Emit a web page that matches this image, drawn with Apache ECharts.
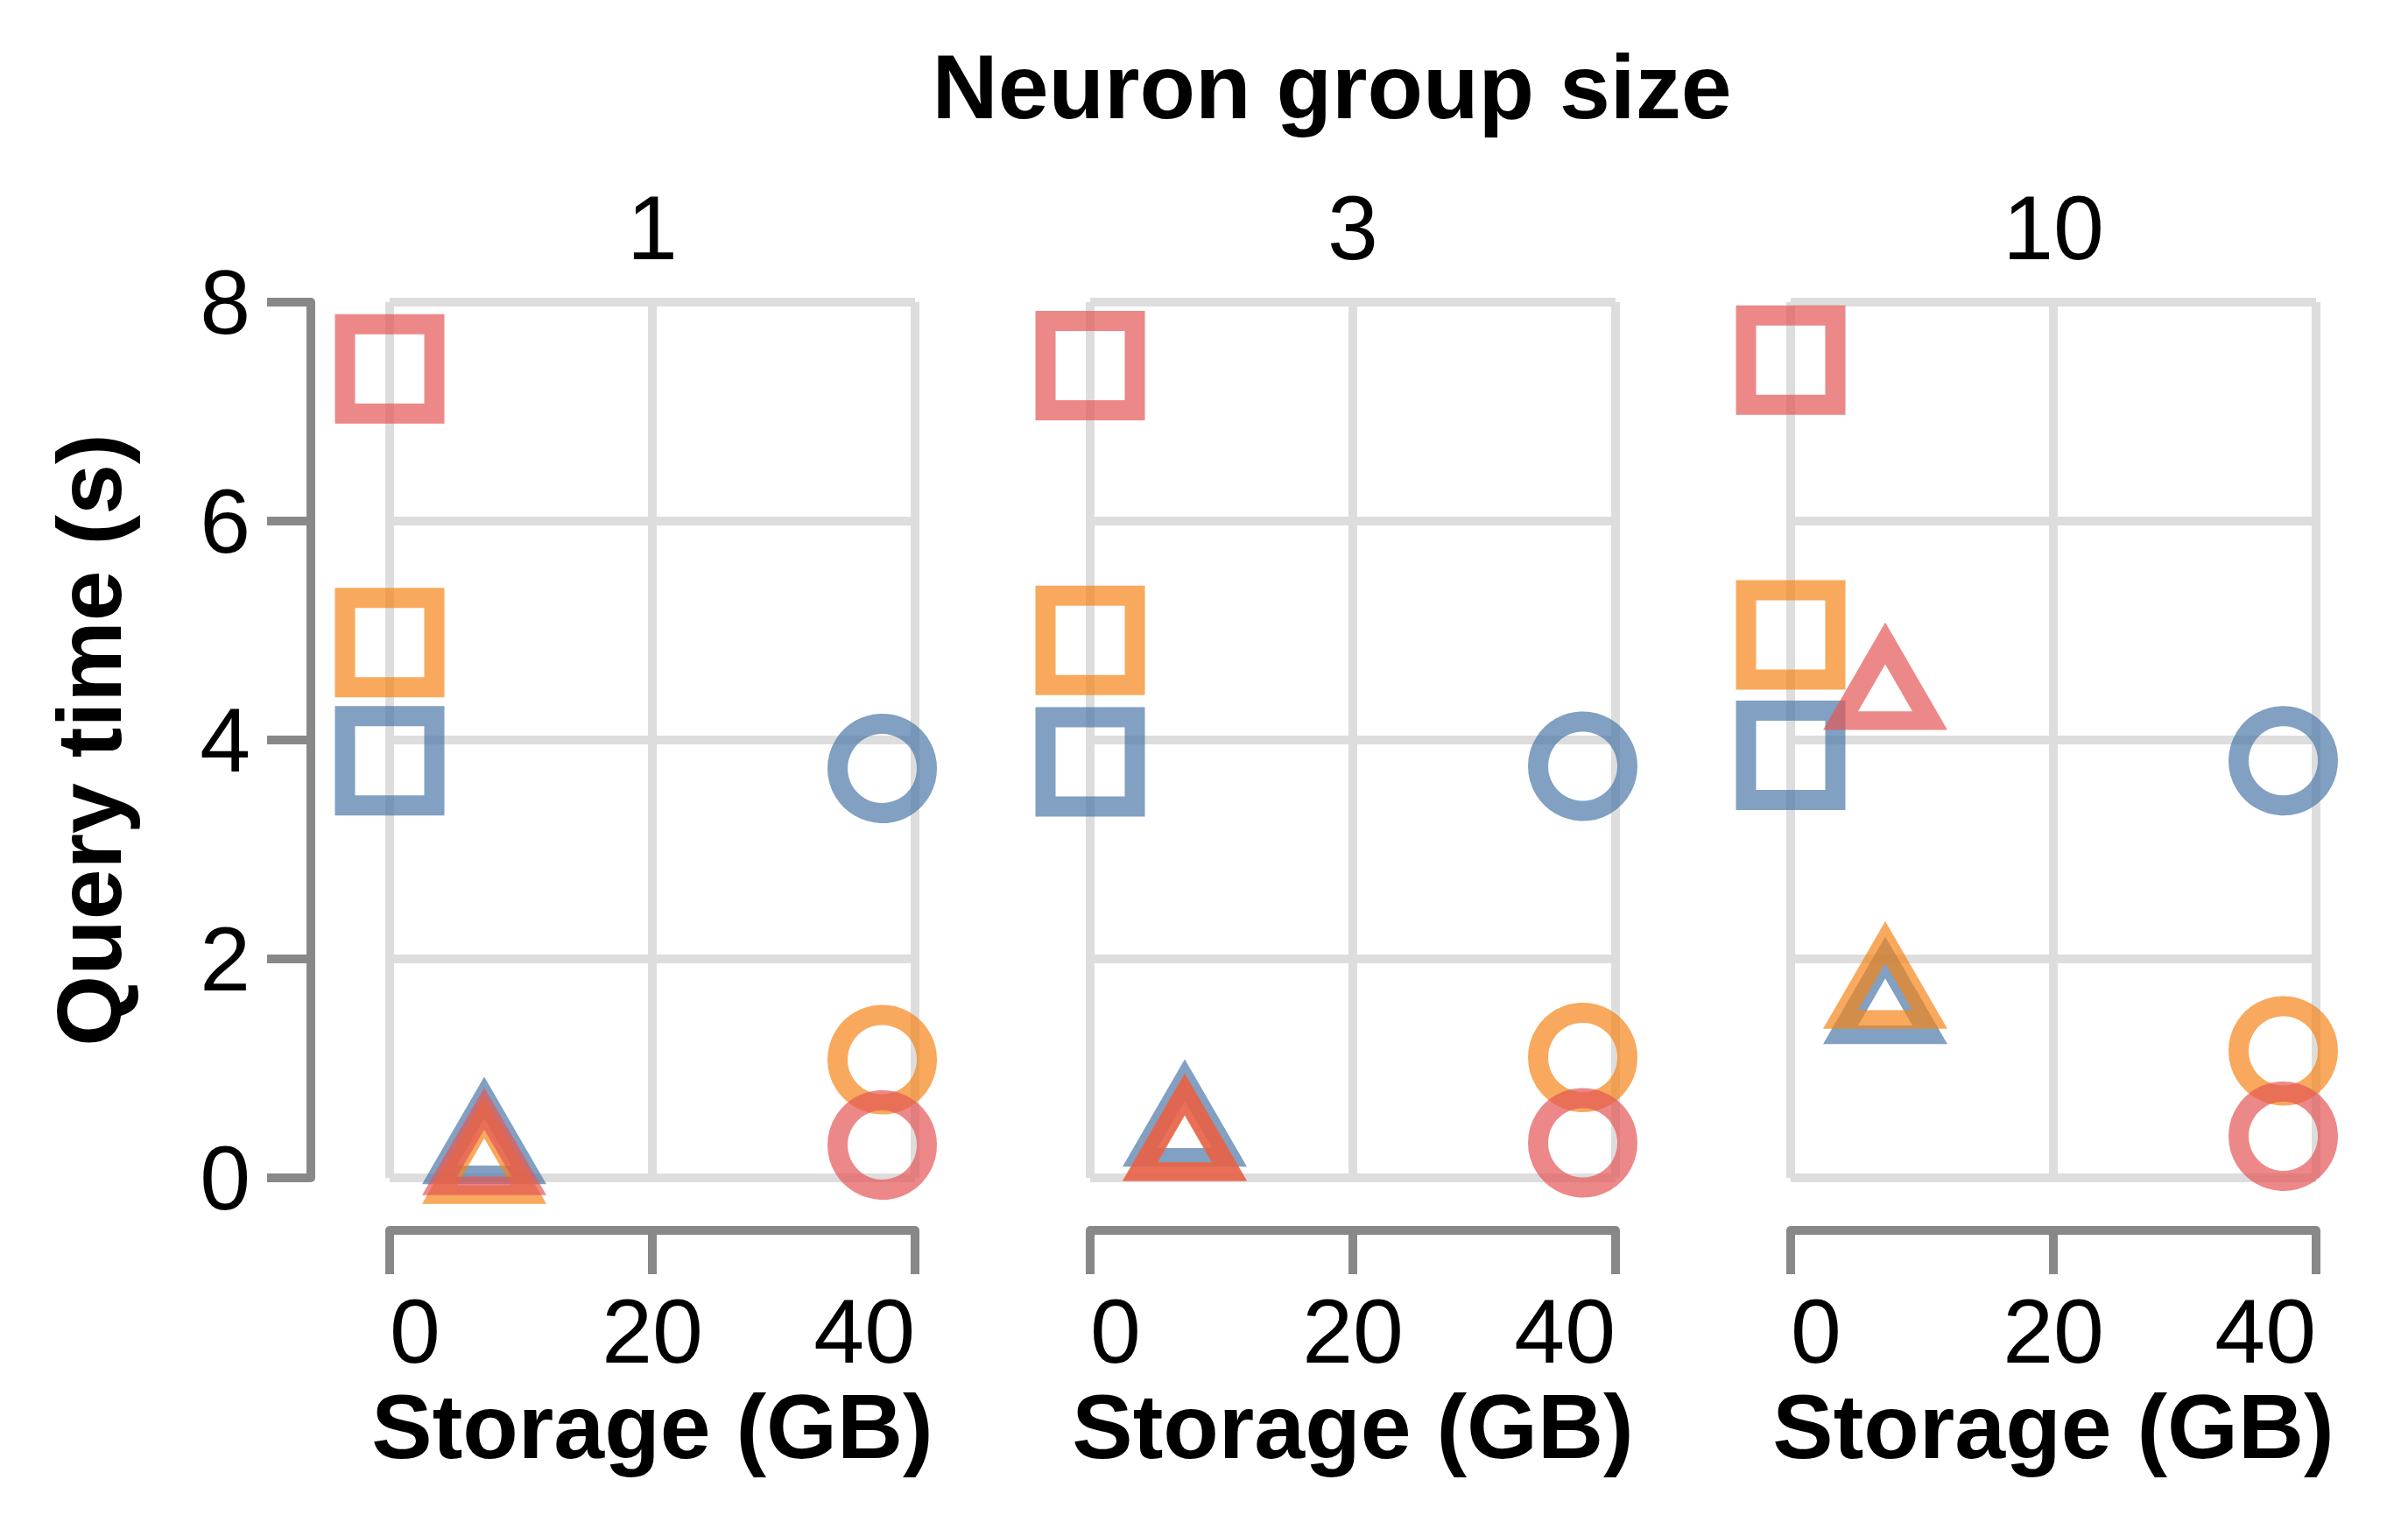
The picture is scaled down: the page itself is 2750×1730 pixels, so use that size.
<!DOCTYPE html>
<html>
<head>
<meta charset="utf-8">
<script src="https://cdn.jsdelivr.net/npm/echarts@6/dist/echarts.min.js"></script>
<style>
  html, body { margin: 0; padding: 0; background: #ffffff; }
  #chart { width: 2750px; height: 1730px; }
</style>
</head>
<body>
<div id="chart"></div>
<script>
// ---------------- data ----------------
const panels = ['1', '3', '10'];              // Neuron group size (column headers)
const xTicks = [0, 20, 40];                    // Storage (GB)
const yTicks = [0, 2, 4, 6, 8];                // Query time (s)
const groups = ['A', 'B', 'C'];                // colour groups (blue, orange, red)
const shapes = ['rect', 'triangle', 'circle']; // marker groups

// storage (GB) of each marker group
const storageGB = [0, 7.2, 37.5];

// query time (s) per panel [1, 3, 10]
const rectA = [3.81, 3.80, 3.86];
const rectB = [4.89, 4.91, 4.96];
const rectC = [7.39, 7.42, 7.47];
const triA  = [0.38, 0.54, 1.66];
const triB  = [0.20, 0.41, 1.80];
const triC  = [0.28, 0.41, 4.53];
const circA = [3.74, 3.76, 3.81];
const circB = [1.08, 1.10, 1.16];
const circC = [0.30, 0.32, 0.38];

const timeTable = [
  [rectA, rectB, rectC],
  [triA, triB, triC],
  [circA, circB, circC]
];

// ---------------- styles ----------------
const groupColors = ['#4c78a8', '#f58518', '#e45756'];
const FONT = '"Liberation Sans", Arial, Helvetica, sans-serif';
const FS = 104;
const AXIS_GRAY = '#888888';
const GRID_GRAY = '#dddddd';
const panelLeft = [445, 1245, 2045];
const panelTop = 345, panelW = 600, panelH = 1000;
const symbolSizes = { rect: [102, 102], triangle: [102, 88.3], circle: [102, 102] };

const grids = [], xAxes = [], yAxes = [], series = [], graphics = [];

panels.forEach((p, pi) => {
  grids.push({ left: panelLeft[pi], top: panelTop, width: panelW, height: panelH, containLabel: false });
  xAxes.push({
    gridIndex: pi, type: 'value', min: xTicks[0], max: xTicks[xTicks.length - 1],
    interval: xTicks[1] - xTicks[0],
    offset: 60,
    name: 'Storage (GB)', nameLocation: 'middle', nameGap: 157,
    nameTextStyle: { fontFamily: FONT, fontSize: FS, fontWeight: 'bold', color: '#000' },
    axisLine: { show: true, onZero: false, lineStyle: { color: AXIS_GRAY, width: 10 } },
    axisTick: { show: true, length: 50, lineStyle: { color: AXIS_GRAY, width: 10 } },
    axisLabel: { show: true, margin: 63, fontFamily: FONT, fontSize: FS, color: '#000',
                 alignMinLabel: 'left', alignMaxLabel: 'right' },
    splitLine: { show: true, lineStyle: { color: GRID_GRAY, width: 10 } }
  });
  const isFirst = pi === 0;
  yAxes.push({
    gridIndex: pi, type: 'value', min: yTicks[0], max: yTicks[yTicks.length - 1],
    interval: yTicks[1] - yTicks[0],
    offset: 90,
    name: isFirst ? 'Query time (s)' : '', nameLocation: 'middle', nameGap: 201,
    nameTextStyle: { fontFamily: FONT, fontSize: FS, fontWeight: 'bold', color: '#000' },
    axisLine: { show: isFirst, onZero: false, lineStyle: { color: AXIS_GRAY, width: 10 } },
    axisTick: { show: isFirst, length: 50, lineStyle: { color: AXIS_GRAY, width: 10 } },
    axisLabel: { show: isFirst, margin: 69, fontFamily: FONT, fontSize: FS, color: '#000' },
    splitLine: { show: true, lineStyle: { color: GRID_GRAY, width: 10 } }
  });
  shapes.forEach((s, si) => {
    groups.forEach((g, gi) => {
      series.push({
        type: 'scatter',
        name: g + '-' + s,
        xAxisIndex: pi, yAxisIndex: pi,
        symbol: s,
        symbolSize: symbolSizes[s],
        data: [[storageGB[si], timeTable[si][gi][pi]]],
        itemStyle: {
          color: 'rgba(0,0,0,0)',
          borderColor: groupColors[gi],
          borderWidth: 23,
          borderJoin: 'miter',
          borderMiterLimit: 10,
          opacity: 0.7
        },
        emphasis: { disabled: true },
        silent: true,
        z: 3
      });
    });
  });
  graphics.push({
    type: 'text', x: panelLeft[pi] + panelW / 2, y: 260,
    style: { text: p, fontFamily: FONT, fontSize: FS, fill: '#000', align: 'center', verticalAlign: 'middle' }
  });
});

graphics.push({
  type: 'text', x: 1521, y: 99,
  style: { text: 'Neuron group size', fontFamily: FONT, fontSize: FS, fontWeight: 'bold', fill: '#000',
           align: 'center', verticalAlign: 'middle' }
});

const chart = echarts.init(document.getElementById('chart'), null, { renderer: 'svg', width: 2750, height: 1730 });
chart.setOption({
  backgroundColor: '#ffffff',
  animation: false,
  grid: grids,
  xAxis: xAxes,
  yAxis: yAxes,
  series: series,
  graphic: graphics
});
</script>
</body>
</html>
